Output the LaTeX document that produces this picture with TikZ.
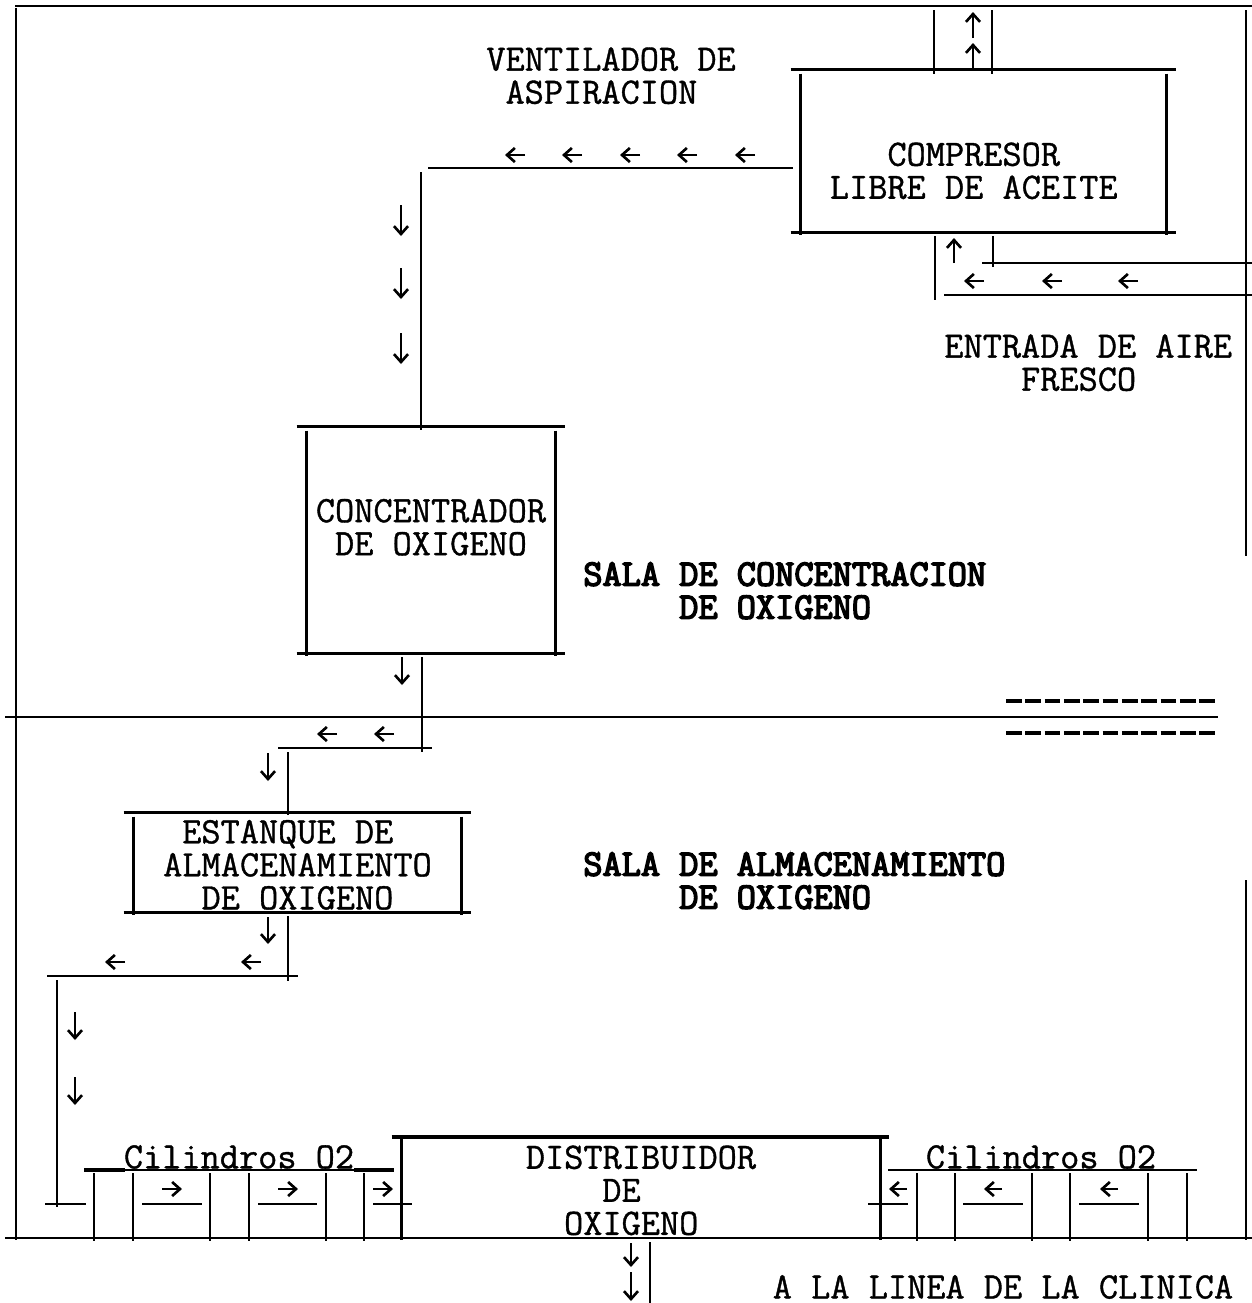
\documentclass[tikz,border=0pt]{standalone}
\usepackage{fontspec}
\newfontfamily\plantfont[FakeBold=1]{Latin Modern Mono}
\newfontfamily\salafont[FakeBold=4]{Latin Modern Mono}
\usetikzlibrary{positioning, arrows.meta}

\begin{document}
\begin{tikzpicture}[
      x=0.02cm, y=-0.02cm,
      every node/.style={font=\fontsize{21.2}{18.8}\selectfont\plantfont, inner sep=0pt, align=center},
      equip/.style={minimum width=#1},
      tag/.style={align=left, anchor=north west},
      salatag/.style={tag, font=\fontsize{21.2}{18.8}\selectfont\salafont},
      pipe/.style={line width=1.6pt},
      heavy/.style={line width=2.4pt},
      flow/.style={line width=1.5pt, -{Straight Barb[length=4.5pt, width=8pt]}},
    ]
    \useasboundingbox (0,0) rectangle (1252,1303);

    % Equipment
    \node[equip=7.3cm, minimum height=3.24cm] (compresor) at (983.5,151) {\rule{0pt}{1.26cm}COMPRESOR\rule{0.39cm}{0pt}\\LIBRE DE ACEITE\rule{0.39cm}{0pt}};
    \node[equip=4.96cm, minimum height=4.52cm] (concentrador) at (431,540) {CONCENTRADOR\\DE OXIGENO\rule[-0.52cm]{0pt}{0pt}};
    \node[equip=6.54cm, minimum height=1.98cm] (estanque) at (297.5,862.5) {\rule{0pt}{0.56cm}ESTANQUE DE\rule{0.39cm}{0pt}\\ALMACENAMIENTO\\DE OXIGENO};
    \node[equip=9.56cm, minimum height=2.02cm] (distribuidor) at (641,1187.5) {\rule{0pt}{0.58cm}DISTRIBUIDOR\\DE\rule{0.78cm}{0pt}\\OXIGENO\rule{0.39cm}{0pt}};
    \foreach \n in {compresor, concentrador, estanque} {
      \draw[pipe] ([xshift=-0.2cm]\n.north west) -- ([xshift=0.2cm]\n.north east);
      \draw[pipe] ([xshift=-0.2cm]\n.south west) -- ([xshift=0.2cm]\n.south east);
      \draw[pipe] ([yshift=-0.08cm]\n.north west) -- ([yshift=-0.06cm]\n.south west);
      \draw[pipe] ([yshift=-0.08cm]\n.north east) -- ([yshift=-0.06cm]\n.south east);
    }

    % Labels
    \node[tag] (ventilador) at (486,47) {VENTILADOR DE\\~ASPIRACION};
    \node[tag] (entrada) at (944,334) {ENTRADA DE AIRE\\~~~~FRESCO};
    \node[salatag] (salaconc) at (583,562) {SALA DE CONCENTRACION\\~~~~~DE OXIGENO};
    \node[salatag] (salaalm) at (583,852) {SALA DE ALMACENAMIENTO\\~~~~~DE OXIGENO};
    \node (cilizq) at (239,1157) {Cilindros O2};
    \node (cilder) at (1041,1157) {Cilindros O2};
    \node (clinica) at (1003,1287) {A LA LINEA DE LA CLINICA};

    % Walls
    \coordinate (wallTL) at (15,6);
    \coordinate (wallTR) at (1252,6);
    \coordinate (wallBL) at (5,1238);
    \coordinate (wallBR) at (1252,1238);
    \draw[pipe] (wallTL) -- (wallTR);
    \draw[pipe] (wallBL) -- (wallBR);
    \draw[pipe] (16,8) -- (16,1240);
    \draw[pipe] (1246,10) -- (1246,556);
    \draw[pipe] (1246,880) -- (1246,1240);
    \draw[pipe] (5,717) -- (1218,717);
    \draw[heavy, dash pattern=on 9pt off 2pt] (1006,701) -- (1215,701);
    \draw[heavy, dash pattern=on 9pt off 2pt] (1006,733) -- (1215,733);

    % Ducts
    \draw[pipe] (934,10) -- (934,74);
    \draw[pipe] (992,10) -- (992,74);
    \draw[pipe] (935,236) -- (935,300);
    \draw[pipe] (993,236) -- (993,267);
    \draw[pipe] (982,263) -- (1252,263);
    \draw[pipe] (944,295) -- (1252,295);
    \draw[pipe] (428,168) -- (793,168);
    \draw[pipe] (421,172) -- (421,430);
    \draw[pipe] (422,657) -- (422,752);
    \draw[pipe] (278,748) -- (432,748);
    \draw[pipe] (288,752) -- (288,815);
    \draw[pipe] (288,916) -- (288,981);
    \draw[pipe] (47,976) -- (298,976);
    \draw[pipe] (57,980) -- (57,1207);
    \draw[pipe] (45,1204) -- (86,1204);
    \draw[pipe] (650,1242) -- (650,1303);

    % Distributor
    \draw[heavy] ([xshift=-0.2cm]distribuidor.north west) -- ([xshift=0.18cm]distribuidor.north east);
    \draw[pipe] (distribuidor.north west) -- ([yshift=-0.04cm]distribuidor.south west);
    \draw[pipe] (distribuidor.north east) -- ([yshift=-0.04cm]distribuidor.south east);

    % Cylinders
    \draw[pipe] (84,1170) -- (394,1170);
    \draw[heavy] (84,1170) -- (125,1170);
    \draw[heavy] (354,1170) -- (394,1170);
    \draw[pipe] (888,1170) -- (1197,1170);
    \foreach \x in {94,133,210,249,326,364,917,955,1032,1070,1148,1187}
      \draw[pipe] (\x,1173) -- (\x,1241);
    \foreach \a/\b in {142/202,258/317,373/412,868/908,963/1023,1079/1139}
      \draw[pipe] (\a,1204) -- (\b,1204);

    % Flow arrows
    \foreach \x in {505,562,620,677,735}
      \draw[flow] (\x+20,155) -- (\x,155);
    \foreach \x in {964,1042,1118}
      \draw[flow] (\x+20,281) -- (\x,281);
    \foreach \x in {317,374}
      \draw[flow] (\x+20,734) -- (\x,734);
    \foreach \x in {105,241}
      \draw[flow] (\x+20,962) -- (\x,962);
    \foreach \x in {889,984,1100}
      \draw[flow] (\x+18,1189) -- (\x,1189);
    \foreach \x in {162,278,373}
      \draw[flow] (\x,1189) -- (\x+20,1189);
    \foreach \y in {205,268,333}
      \draw[flow] (401,\y) -- (401,\y+31);
    \foreach \y in {1012,1077}
      \draw[flow] (75,\y) -- (75,\y+28);
    \draw[flow] (973,38) -- (973,12);
    \draw[flow] (973,70) -- (973,43);
    \draw[flow] (954,263) -- (954,238);
    \draw[flow] (402,657) -- (402,685);
    \draw[flow] (268,753) -- (268,781);
    \draw[flow] (268,917) -- (268,944);
    \draw[flow] (631,1243) -- (631,1267);
    \draw[flow] (631,1272) -- (631,1301);
  \end{tikzpicture}
\end{document}
